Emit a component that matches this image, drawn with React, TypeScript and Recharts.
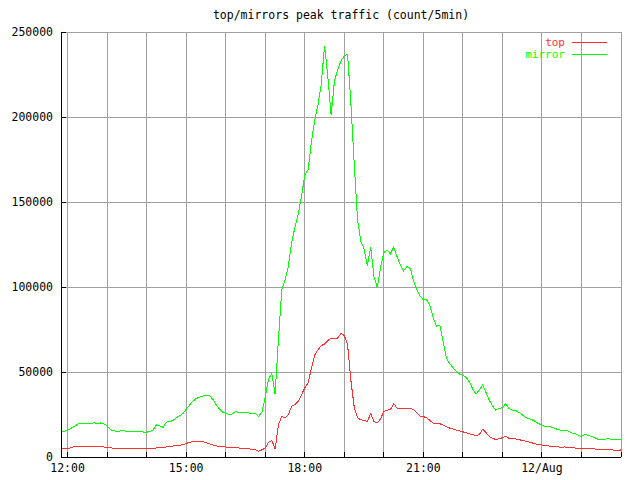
import { CartesianGrid, Legend, Line, LineChart, XAxis, YAxis } from "recharts";

// samples every 5 minutes, starting at 11:50 (minutes relative to 12:00)
const START_MIN = -10;
const STEP_MIN = 5;

const topCounts = [
  4900, 4900,
  4900, 5500, 6000, 6200, 6200, 6200, 6200, 6200, 6200, 6300, 6200, 6000, // 12:00
  5300, 5500, 5000, 4900, 4900, 4900, 4900, 4900, 4900, 4900, 4900, 4900, // 13:00
  4900, 4900, 5200, 5300, 5500, 5700, 5900, 6200, 6500, 6800, 6900, 7200, // 14:00
  8000, 8600, 9200, 9300, 9300, 9000, 8400, 7900, 7100, 6600, 6100, 5900, // 15:00
  5900, 5600, 5500, 5300, 5300, 5200, 5000, 4800, 4600, 4400, 3400, 4200, // 16:00
  5300, 8600, 9800, 4500, 19000, 23900, 22900, 24900, 29800, 30800, 32700, 36600, // 17:00
  40600, 43500, 52000, 60000, 63000, 65500, 66500, 68500, 70000, 70000, 70000, 72700, // 18:00
  71500, 66000, 45000, 29500, 23000, 21900, 21500, 21000, 25500, 21000, 20000, 22500, // 19:00
  26800, 27600, 27800, 31500, 28800, 28300, 28400, 28500, 28800, 27800, 26200, 23900, // 20:00
  23800, 23000, 21500, 20000, 20000, 19600, 18700, 17800, 17000, 16400, 15900, 15300, // 21:00
  14800, 14200, 13600, 13100, 12600, 13300, 16300, 14500, 12000, 11000, 10300, 10800, // 22:00
  11300, 12100, 11000, 10900, 10600, 10200, 9800, 9300, 8800, 8300, 7800, 7300, // 23:00
  7100, 6800, 6500, 6200, 6000, 5900, 5800, 5900, 5700, 5500, 5300, 5200, // 00:00
  5100, 5000, 4900, 4800, 4700, 4600, 4600, 4500, 4300, 4200, 4000, 3700, // 01:00
  4200,
];

const mirrorCounts = [
  14700, 15200,
  15600, 16800, 18000, 19200, 20000, 20000, 19800, 19400, 20300, 19600, 20000, 19500,
  18500, 16000, 15500, 15100, 15300, 15600, 14900, 15000, 15000, 15000, 15000, 14700,
  14600, 15000, 16000, 19000, 18300, 17500, 20500, 20800, 21500, 23000, 24300, 25500,
  28000, 30500, 32800, 34300, 35200, 35800, 36200, 36200, 34200, 31000, 28500, 26500,
  25700, 25000, 25300, 26700, 26000, 26300, 25900, 26000, 25300, 25600, 23800, 26500,
  35000, 46000, 49000, 37000, 69000, 98000, 104300, 112000, 126000, 135000, 143000, 153000,
  166000, 169000, 185000, 198000, 207000, 219000, 242000, 224000, 201000, 221000, 228000, 233000,
  236000, 237000, 208000, 173000, 140000, 127000, 122500, 112500, 123500, 106000, 99800, 111500,
  120300, 121700, 119500, 123500, 118000, 113000, 109500, 112000, 111000, 104000, 98400, 94600,
  92500, 92500, 88800, 82000, 77000, 77500, 68000, 58000, 55000, 52500, 50400, 48800,
  48200, 46800, 44000, 40000, 37000, 39500, 42300, 38000, 33500, 30000, 27500, 28600,
  29000, 31400, 28500, 27500, 27300, 26300, 24900, 23400, 22600, 21900, 20900, 19600,
  18800, 18000, 17800, 17600, 16800, 16000, 15700, 15700, 15200, 14200, 13800, 12800,
  12000, 13300, 12700, 12100, 11500, 10400, 10000, 10300, 10800, 10400, 10200, 10200,
  10200,
];

const hourTicks = [0, 60, 120, 180, 240, 300, 360, 420, 480, 540, 600, 660, 720, 780, 840];
const labelTicks = [0, 180, 360, 540, 720];
const tickLabels = ["12:00", "15:00", "18:00", "21:00", "12/Aug"];
const yTicks = [0, 50000, 100000, 150000, 200000, 250000];

const RED = "#ff3030";
const GREEN = "#00ff00";
const FONT = '"DejaVu Sans Mono", monospace';
const FS = 11.5;

const data = topCounts.map((v, i) => ({
  t: START_MIN + i * STEP_MIN,
  top: v,
  mirror: mirrorCounts[i],
}));

const formatX = (v: number) => {
  const i = labelTicks.indexOf(v);
  return i >= 0 ? tickLabels[i] : "";
};

const legendItems = [
  { name: "top", color: RED },
  { name: "mirror", color: GREEN },
];

function LegendBox() {
  return (
    <svg width={110} height={24} style={{ display: "block" }}>
      {legendItems.map((it, i) => {
        const y = 6.5 + i * 11.5;
        return (
          <g key={it.name}>
            <text
              x={55}
              y={y}
              textAnchor="end"
              dominantBaseline="central"
              fill={it.color}
              fontFamily={FONT}
              fontSize={11}
            >
              {it.name}
            </text>
            <line x1={62} x2={97} y1={y} y2={y} stroke={it.color} />
          </g>
        );
      })}
    </svg>
  );
}

export default function App() {
  return (
    <div
      style={{
        position: "absolute",
        left: 0,
        top: 0,
        width: 640,
        height: 480,
        background: "#fff",
        shapeRendering: "crispEdges",
      }}
    >
      <div
        style={{
          position: "absolute",
          top: 9,
          left: 0,
          width: 682,
          textAlign: "center",
          fontFamily: FONT,
          fontSize: FS,
          lineHeight: "13px",
          color: "#000",
        }}
      >
        top/mirrors peak traffic (count/5min)
      </div>
      <LineChart
        width={640}
        height={480}
        data={data}
        margin={{ top: 32, right: 19, bottom: 0, left: 0 }}
      >
        <CartesianGrid stroke="#a0a0a0" xAxisId="bottom" yAxisId="left" />
        <XAxis
          xAxisId="bottom"
          dataKey="t"
          type="number"
          domain={[-10, 840]}
          ticks={hourTicks}
          interval={0}
          tickFormatter={formatX}
          height={23}
          tickSize={-5}
          tickMargin={12}
          axisLine={{ stroke: "#000" }}
          tickLine={{ stroke: "#000" }}
          tick={{ fill: "#000", fontSize: FS, fontFamily: FONT }}
          allowDataOverflow
        />
        <XAxis
          xAxisId="top"
          orientation="top"
          dataKey="t"
          type="number"
          domain={[-10, 840]}
          ticks={hourTicks}
          interval={0}
          height={0}
          tickSize={-5}
          tick={false}
          axisLine={{ stroke: "#000" }}
          tickLine={{ stroke: "#000" }}
          allowDataOverflow
        />
        <YAxis
          yAxisId="left"
          type="number"
          domain={[0, 250000]}
          ticks={yTicks}
          interval={0}
          width={61}
          tickSize={-5}
          tickMargin={13}
          tickFormatter={(v: number) => String(v)}
          axisLine={{ stroke: "#000" }}
          tickLine={{ stroke: "#000" }}
          tick={{ fill: "#000", fontSize: FS, fontFamily: FONT }}
          allowDataOverflow
        />
        <YAxis
          yAxisId="right"
          orientation="right"
          type="number"
          domain={[0, 250000]}
          ticks={yTicks}
          interval={0}
          width={0}
          tickSize={-5}
          tick={false}
          axisLine={{ stroke: "#000" }}
          tickLine={{ stroke: "#000" }}
          allowDataOverflow
        />
        <Legend
          layout="vertical"
          align="center"
          verticalAlign="middle"
          content={() => <LegendBox />}
          wrapperStyle={{ left: 510, top: 36, width: 110, height: 24 }}
        />
        <Line
          xAxisId="bottom"
          yAxisId="left"
          type="linear"
          dataKey="top"
          name="top"
          stroke={RED}
          strokeWidth={1}
          dot={false}
          isAnimationActive={false}
        />
        <Line
          xAxisId="bottom"
          yAxisId="left"
          type="linear"
          dataKey="mirror"
          name="mirror"
          stroke={GREEN}
          strokeWidth={1}
          dot={false}
          isAnimationActive={false}
        />
      </LineChart>
    </div>
  );
}
